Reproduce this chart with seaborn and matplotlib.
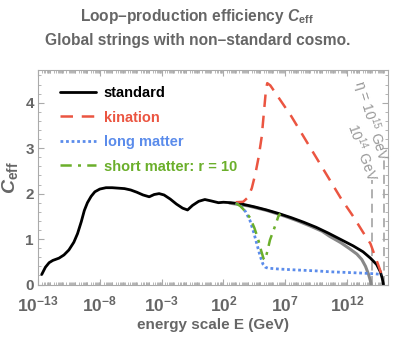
import numpy as np
import pandas as pd
import matplotlib
matplotlib.use("Agg")
import matplotlib.pyplot as plt
import matplotlib.ticker as mticker
import seaborn as sns

# log10(E / GeV) and C_eff
loge_standard = [-12.7, -12.4, -12.1, -11.8, -11.3, -10.9, -10.5, -10.1, -9.8, -9.5, -9.25, -9.0,
                 -8.7, -8.4, -8.0, -7.5, -7.0, -6.5, -6.0, -5.5, -5.0, -4.5, -4.0, -3.6, -3.2,
                 -2.8, -2.3, -1.8, -1.3, -0.9, -0.5, 0.0, 0.5, 1.0, 1.6, 2.0, 2.6, 3.5, 4.5,
                 5.5, 6.5, 7.5, 8.5, 9.5, 10.5, 11.5, 12.5, 13.3, 13.9, 14.4, 14.7, 14.85, 14.95]
c_standard = [0.22, 0.38, 0.48, 0.53, 0.58, 0.65, 0.76, 0.93, 1.12, 1.38, 1.63, 1.80,
              1.94, 2.04, 2.10, 2.13, 2.13, 2.12, 2.11, 2.08, 2.03, 1.97, 1.93, 1.98, 2.00,
              1.97, 1.88, 1.77, 1.68, 1.64, 1.74, 1.83, 1.87, 1.84, 1.80, 1.81, 1.80, 1.77, 1.71,
              1.64, 1.56, 1.47, 1.37, 1.26, 1.13, 0.99, 0.85, 0.72, 0.58, 0.44, 0.28, 0.14, 0.0]

loge_std14 = [2.5, 4.0, 5.5, 7.0, 8.0, 9.0, 10.0, 10.6, 11.5, 12.2, 12.8, 13.2, 13.5, 13.75, 13.9, 13.95]
c_std14 = [1.79, 1.73, 1.63, 1.50, 1.40, 1.29, 1.17, 1.06, 0.92, 0.79, 0.67, 0.55, 0.40, 0.22, 0.08, 0.0]

loge_kination = [3.0, 3.6, 4.0, 4.3, 4.6, 4.85, 5.1, 5.3, 5.45, 5.55, 5.8, 6.5, 7.5, 8.5, 9.5,
                 10.5, 11.5, 12.5, 13.3, 13.9, 14.3, 14.6, 14.8]
c_kination = [1.81, 1.82, 1.92, 2.12, 2.45, 2.80, 3.25, 3.85, 4.30, 4.43, 4.38, 4.10, 3.70, 3.25, 2.80,
              2.35, 1.90, 1.50, 1.15, 0.90, 0.60, 0.38, 0.22]

loge_long = [3.0, 3.4, 3.8, 4.15, 4.45, 4.7, 4.95, 5.2, 5.4, 5.6, 6.5, 7.9, 9.5, 10.6, 12.0, 13.3, 14.3, 14.8]
c_long = [1.79, 1.73, 1.60, 1.41, 1.15, 0.90, 0.65, 0.45, 0.38, 0.36, 0.34, 0.32, 0.30, 0.28, 0.265, 0.25, 0.235, 0.22]

loge_short = [3.0, 3.4, 3.8, 4.15, 4.5, 4.8, 5.05, 5.25, 5.37, 5.55, 5.77, 6.0, 6.2, 6.45, 6.6]
c_short = [1.79, 1.72, 1.60, 1.47, 1.25, 1.01, 0.75, 0.57, 0.54, 0.72, 0.98, 1.15, 1.30, 1.50, 1.56]

eta_lines = [14, 15]
eta_tops = [2.29, 2.73]

sns.set_style("ticks")
plt.rcParams["font.family"] = ["Liberation Sans", "DejaVu Sans"]
plt.rcParams["mathtext.fontset"] = "custom"
plt.rcParams["mathtext.rm"] = "Liberation Sans:bold"
plt.rcParams["mathtext.it"] = "Liberation Sans:italic:bold"
plt.rcParams["mathtext.bf"] = "Liberation Sans:bold"

grey_txt = "#666666"
frame = "#aaaaaa"

fig = plt.figure(figsize=(3.95, 3.38), dpi=100)
ax = fig.add_axes([38 / 395, 1 - 284.5 / 338, 350 / 395, (284.5 - 70) / 338])
ax.set_xscale("log")

for n, top in zip(eta_lines, eta_tops):
    ax.plot([10.0 ** n, 10.0 ** n], [0, top], color=frame, lw=1.3, ls=(0, (5, 3)))

sns.lineplot(x=10.0 ** np.array(loge_std14), y=c_std14, ax=ax, color="#888888", lw=2.2)
sns.lineplot(x=10.0 ** np.array(loge_standard), y=c_standard, ax=ax, color="black", lw=2.0,
             label="standard")
sns.lineplot(x=10.0 ** np.array(loge_kination), y=c_kination, ax=ax, color="#eb5541", lw=1.8,
             ls=(0, (5, 3.5)), label="kination")
sns.lineplot(x=10.0 ** np.array(loge_long), y=c_long, ax=ax, color="#5b8ceb", lw=2.0,
             ls=(0, (1, 1)), label="long matter")
sns.lineplot(x=10.0 ** np.array(loge_short), y=c_short, ax=ax, color="#6baf2b", lw=1.8,
             ls=(0, (4.5, 2.5, 1.2, 2.5)), label="short matter: r = 10")

ax.text(10.0 ** 13.95, 3.61, r"η = 10$^{\mathregular{15}}$ GeV", rotation=-73, ha="center",
        va="center", color="#999999", fontsize=10, rotation_mode="anchor")
ax.text(10.0 ** 13.3, 2.92, r"10$^{\mathregular{14}}$ GeV", rotation=-70, ha="center",
        va="center", color="#999999", fontsize=10, rotation_mode="anchor")

ax.set_xlim(1e-13, 10.0 ** 15.32)
ax.set_ylim(0, 4.72)

major = [-13, -8, -3, 2, 7, 12]
ax.xaxis.set_major_locator(mticker.FixedLocator([10.0 ** n for n in major]))
ax.xaxis.set_major_formatter(mticker.FixedFormatter([f"$10^{{{n}}}$" for n in major]))
ax.xaxis.set_minor_locator(mticker.LogLocator(base=10, subs=np.arange(1, 10), numticks=100))
ax.xaxis.set_minor_formatter(mticker.NullFormatter())
ax.yaxis.set_major_locator(mticker.FixedLocator([0, 1, 2, 3, 4]))
ax.yaxis.set_minor_locator(mticker.MultipleLocator(0.2))

ax.tick_params(which="both", direction="in", top=True, right=True, color=frame,
               labelcolor=grey_txt)
ax.tick_params(which="major", length=4, width=0.8, pad=2)
ax.tick_params(which="minor", length=2, width=0.6)
ax.tick_params(axis="x", which="major", labelsize=12.5, pad=7)
ax.tick_params(axis="y", which="major", labelsize=11, pad=3)
for lab in ax.get_yticklabels():
    lab.set_fontweight("bold")
for sp in ax.spines.values():
    sp.set_color(frame)
    sp.set_linewidth(0.8)

ax.set_xlabel("energy scale E (GeV)", fontsize=11, fontweight="bold", color=grey_txt, labelpad=3)
ax.set_ylabel(r"$C_{\rm eff}$", fontsize=14, color=grey_txt, labelpad=4)

leg = ax.legend(loc="upper left", bbox_to_anchor=(0.017, 1.0), frameon=False, handlelength=2.5,
                handletextpad=0.5, labelspacing=0.72, borderaxespad=0.7,
                labelcolor="linecolor", prop={"weight": "bold", "size": 10.5})

fig.text(0.5, 1 - 16 / 338, r"Loop–production efficiency $C_{\rm eff}$", ha="center",
         va="center", fontsize=11.2, fontweight="bold", color=grey_txt)
fig.text(0.5, 1 - 41 / 338, "Global strings with non–standard cosmo.", ha="center",
         va="center", fontsize=11.2, fontweight="bold", color=grey_txt)

fig.savefig("out.png", dpi=100)
